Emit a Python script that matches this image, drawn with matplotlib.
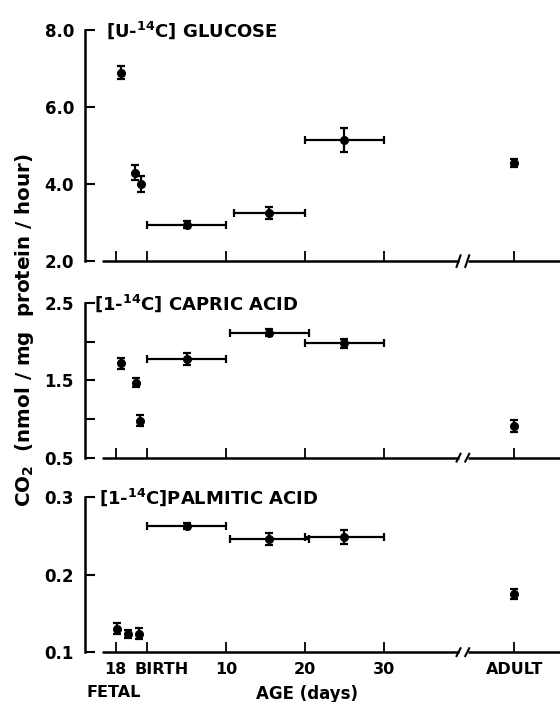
import matplotlib.pyplot as plt
import numpy as np

plt.rcParams['font.family'] = ['DejaVu Sans']
plt.rcParams['font.weight'] = 'bold'

# x positions in days (fetal 18 d drawn at -4, birth at 0, adult after the break)
ADULT = 46.5
BREAK = 40.0
x_ticks = [-4, 0, 10, 20, 30, ADULT]
x_ticklabels = ['18', '', '10', '20', '30', 'ADULT']

# [U-14C] glucose
glu_x = [-3.3, -1.5, -0.8, 5.0, 15.5, 25.0, ADULT]
glu_xerr = [0, 0, 0, 5.0, 4.5, 5.0, 0]
glu_y = [6.9, 4.3, 4.0, 2.95, 3.25, 5.15, 4.55]
glu_yerr = [0.17, 0.2, 0.2, 0.1, 0.15, 0.32, 0.1]

# [1-14C] capric acid
cap_x = [-3.3, -1.4, -0.9, 5.0, 15.5, 25.0, ADULT]
cap_xerr = [0, 0, 0, 5.0, 5.0, 5.0, 0]
cap_y = [1.72, 1.47, 0.98, 1.78, 2.12, 1.98, 0.91]
cap_yerr = [0.07, 0.06, 0.07, 0.08, 0.05, 0.06, 0.08]

# [1-14C] palmitic acid
pal_x = [-3.8, -2.4, -1.0, 5.0, 15.5, 25.0, ADULT]
pal_xerr = [0, 0, 0, 5.0, 5.0, 5.0, 0]
pal_y = [0.130, 0.123, 0.124, 0.263, 0.246, 0.248, 0.175]
pal_yerr = [0.007, 0.005, 0.007, 0.004, 0.008, 0.009, 0.006]

panels = [
    dict(x=glu_x, xerr=glu_xerr, y=glu_y, yerr=glu_yerr, ylim=(2.0, 8.0),
         yticks=[2.0, 4.0, 6.0, 8.0], ylabels=['2.0', '4.0', '6.0', '8.0'],
         title='[U-$^{14}$C] GLUCOSE', title_x=0.045, rect=[0.152, 0.628, 0.848, 0.329]),
    dict(x=cap_x, xerr=cap_xerr, y=cap_y, yerr=cap_yerr, ylim=(0.5, 2.5),
         yticks=[0.5, 1.0, 1.5, 2.0, 2.5], ylabels=['0.5', '', '1.5', '', '2.5'],
         title='[1-$^{14}$C] CAPRIC ACID', title_x=0.018, rect=[0.152, 0.348, 0.848, 0.220]),
    dict(x=pal_x, xerr=pal_xerr, y=pal_y, yerr=pal_yerr, ylim=(0.1, 0.3),
         yticks=[0.1, 0.2, 0.3], ylabels=['0.1', '0.2', '0.3'],
         title='[1-$^{14}$C]PALMITIC ACID', title_x=0.03, rect=[0.152, 0.071, 0.848, 0.221]),
]

fig = plt.figure(figsize=(5.6, 7.02), dpi=100)

for i, p in enumerate(panels):
    ax = fig.add_axes(p['rect'])
    ax.errorbar(p['x'], p['y'], xerr=p['xerr'], yerr=p['yerr'], fmt='o',
                color='black', ms=5.5, elinewidth=1.6, capsize=3.2, capthick=1.6)
    ax.set_xlim(-7.85, 52.3)
    ax.set_ylim(*p['ylim'])
    for s in ['top', 'right', 'bottom']:
        ax.spines[s].set_visible(False)
    ax.spines['left'].set_linewidth(1.8)

    # broken baseline
    tr = ax.get_xaxis_transform()
    ax.plot([-5.7, BREAK - 0.5], [0, 0], transform=tr, color='black', lw=1.8,
            clip_on=False, solid_capstyle='butt')
    ax.plot([BREAK + 0.6, 52.3], [0, 0], transform=tr, color='black', lw=1.8,
            clip_on=False, solid_capstyle='butt')
    for xb in [BREAK - 0.8, BREAK + 0.3]:
        ax.plot([xb, xb + 0.5], [-0.025, 0.025], transform=tr, color='black',
                lw=1.5, clip_on=False)

    ax.set_xticks(x_ticks)
    ax.tick_params(axis='x', direction='in', length=7, width=1.3)
    ax.set_yticks(p['yticks'])
    ax.set_yticklabels(p['ylabels'])
    ax.tick_params(axis='y', direction='in', length=7, width=1.5, labelsize=12, pad=8)
    for lab in ax.get_yticklabels():
        lab.set_fontweight('bold')

    ax.text(p['title_x'], 1.0, p['title'], transform=ax.transAxes, ha='left',
            va='center', fontsize=13, fontweight='bold')

    if i < 2:
        ax.set_xticklabels([])
    else:
        ax.set_xticklabels(x_ticklabels, fontsize=11.5, fontweight='bold')
        ax.tick_params(axis='x', pad=7)
        ax.text(1.8, -0.112, 'BIRTH', transform=tr, ha='center', va='center',
                fontsize=11.5, fontweight='bold')
        ax.text(-4.2, -0.26, 'FETAL', transform=tr, ha='center', va='center',
                fontsize=11.5, fontweight='bold')
        ax.text(0.467, -0.27, 'AGE (days)', transform=ax.transAxes, ha='center',
                va='center', fontsize=12, fontweight='bold')

fig.text(0.043, 0.53, 'CO$_2$  (nmol / mg  protein / hour)', rotation=90, ha='center',
         va='center', fontsize=14.3, fontweight='bold')

fig.savefig('out.png', dpi=100)
